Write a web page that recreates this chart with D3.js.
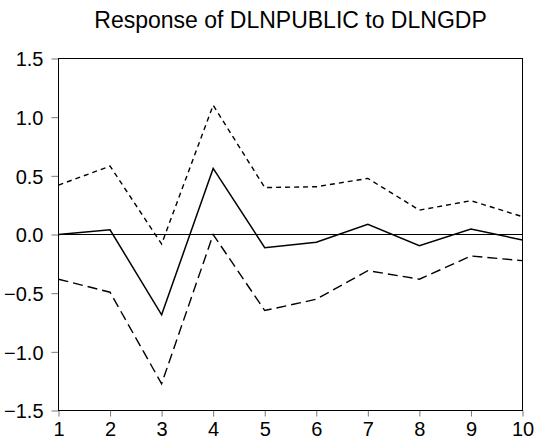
<!DOCTYPE html>
<html>
<head>
<meta charset="utf-8">
<script src="https://cdn.jsdelivr.net/npm/d3@7"></script>
<style>
  body { margin: 0; background: #fff; }
  text { font-family: "Liberation Sans", Arial, sans-serif; fill: #000; }
</style>
</head>
<body>
<div id="chart"></div>
<script>
// impulse response and its two-standard-error bands, periods 1..10
var periods  = [1, 2, 3, 4, 5, 6, 7, 8, 9, 10];
var response = [0.0, 0.04, -0.685, 0.563, -0.112, -0.066, 0.087, -0.095, 0.047, -0.047];
var upper    = [0.421, 0.583, -0.081, 1.102, 0.40, 0.407, 0.478, 0.208, 0.288, 0.152];
var lower    = [-0.381, -0.492, -1.272, 0.0, -0.648, -0.552, -0.308, -0.381, -0.183, -0.223];
var yTicks   = [-1.5, -1.0, -0.5, 0.0, 0.5, 1.0, 1.5];
var title    = "Response of DLNPUBLIC to DLNGDP";

var W = 537, H = 444;
var margin = {top: 58.5, right: 14.5, bottom: 33.5, left: 58.5};
var width  = W - margin.left - margin.right;
var height = H - margin.top - margin.bottom;

var svg = d3.select("#chart").append("svg")
    .attr("width", W)
    .attr("height", H);

var g = svg.append("g")
    .attr("transform", "translate(" + margin.left + "," + margin.top + ")");

var xScale = d3.scaleLinear().domain([1, 10]).range([0, width]);
var yScale = d3.scaleLinear().domain([-1.5, 1.5]).range([height, 0]);

// axes
var xAxis = d3.axisBottom(xScale).tickValues(periods).tickSize(6).tickPadding(5)
    .tickFormat(d3.format("d"));
var yAxis = d3.axisLeft(yScale).tickValues(yTicks).tickSize(7).tickPadding(8)
    .tickFormat(d3.format(".1f"));

var xAxisG = g.append("g")
    .attr("transform", "translate(0," + height + ")")
    .call(xAxis);
var yAxisG = g.append("g").call(yAxis);

[xAxisG, yAxisG].forEach(function(a) {
    a.select(".domain").remove();
    a.selectAll(".tick line").attr("stroke", "#777");
    a.selectAll("text").style("font-size", "20px");
});
xAxisG.selectAll("text").attr("dy", "0.71em");
yAxisG.selectAll("text").attr("dy", "0.36em");

// frame
g.append("rect")
    .attr("width", width)
    .attr("height", height)
    .attr("fill", "none")
    .attr("stroke", "#000")
    .attr("stroke-width", 1);

// zero line
g.append("line")
    .attr("x1", 0).attr("x2", width)
    .attr("y1", yScale(0)).attr("y2", yScale(0))
    .attr("stroke", "#000")
    .attr("stroke-width", 1);

var line = d3.line()
    .x(function(d, i) { return xScale(periods[i]); })
    .y(function(d) { return yScale(d); });

g.append("path").datum(upper)
    .attr("d", line).attr("fill", "none")
    .attr("stroke", "#000").attr("stroke-width", 1.4)
    .attr("stroke-dasharray", "5,4");

g.append("path").datum(lower)
    .attr("d", line).attr("fill", "none")
    .attr("stroke", "#000").attr("stroke-width", 1.4)
    .attr("stroke-dasharray", "10,5");

g.append("path").datum(response)
    .attr("d", line).attr("fill", "none")
    .attr("stroke", "#000").attr("stroke-width", 1.5);

// title
svg.append("text")
    .attr("x", margin.left + width / 2)
    .attr("y", 28)
    .attr("text-anchor", "middle")
    .style("font-size", "23px")
    .text(title);
</script>
</body>
</html>
